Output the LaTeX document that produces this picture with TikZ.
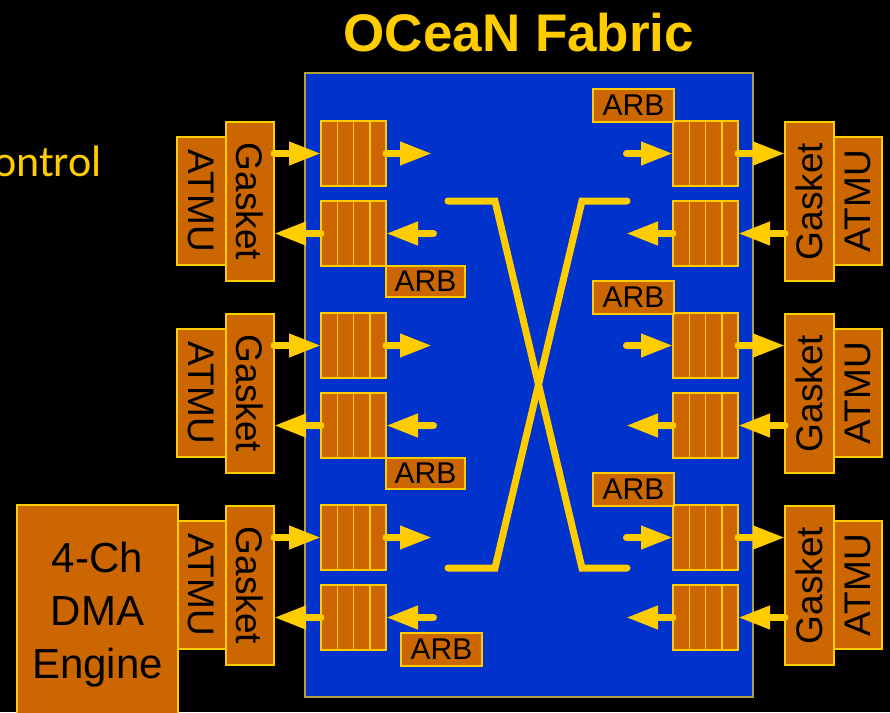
\documentclass[tikz,border=0pt]{standalone}
\usepackage{fontspec}
\setmainfont{Liberation Sans}
\newfontfamily\carl{Carlito}
\usetikzlibrary{arrows.meta}
\definecolor{orn}{HTML}{CC6600}
\definecolor{yel}{HTML}{FFCC00}
\definecolor{blu}{HTML}{0033CC}
\newcommand\bx[6]{\node[box, minimum width={((#4)-(#2))*1pt}, minimum height={((#5)-(#3))*1pt}] (#1) at ({((#2)+(#4))/2},{((#3)+(#5))/2}) {#6};}
\newcommand\que[3]{%
  \node[box, minimum width=65pt, minimum height=65pt] (#1) at ({(#2)+32.5},{(#3)+32.5}) {};
  \foreach \k in {1,2,3} \draw[yel, line width=1.5pt] ([xshift=\k*16.25pt]#1.north west) -- ([xshift=\k*16.25pt]#1.south west);
}
\begin{document}
\begin{tikzpicture}[x=1pt,y=-1pt,
  box/.style={draw=yel, fill=orn, line width=1.5pt, inner sep=0pt, outer sep=0pt},
  arr/.style={yel, line width=7pt, line cap=round, -{Triangle[length=32pt,width=22pt]}},
  bar/.style={yel, line width=7pt, line cap=round},
  lbl/.style={inner sep=0pt, text=black, font=\fontsize{37}{37}\selectfont},
  arbt/.style={inner sep=0pt, text=black, font=\fontsize{30}{30}\selectfont}]
\useasboundingbox (0,0) rectangle (890,712);
\fill[black] (0,0) rectangle (890,712);
% title and side text
\node[inner sep=0pt, anchor=base, text=yel, font=\fontsize{53}{53}\selectfont\bfseries] (title) at (519,51) {OCeaN Fabric};
\begin{scope}
\clip (0,0) rectangle (890,712);
\node[inner sep=0pt, anchor=base east, text=yel, font=\carl\fontsize{44}{44}\selectfont] (ctl) at (102,176) {Control};
\end{scope}
% fabric
\node[draw=yel!70!blu, fill=blu, line width=1.2pt, inner sep=0pt, minimum width=448pt, minimum height=624pt] (fab) at (529,385) {};
% crossbar
\coordinate (c1) at (448,201); \coordinate (c2) at (495,201);
\coordinate (c3) at (582,568); \coordinate (c4) at (627,568);
\coordinate (c5) at (627,201); \coordinate (c6) at (582,201);
\coordinate (c7) at (495,568); \coordinate (c8) at (448,568);
\draw[bar] (c1) -- (c2) -- (c3) -- (c4);
\draw[bar] (c5) -- (c6) -- (c7) -- (c8);
% rows
\foreach \r/\d in {1/0,2/192,3/384}{
  % left side
  \bx{gL\r}{226}{122+\d}{274}{281+\d}{}
  \node[lbl, rotate=-90] at (gL\r) {Gasket};
  \bx{aL\r}{177}{137+\d}{226}{265+\d}{}
  \node[lbl, rotate=-90] at (aL\r) {ATMU};
  \que{qLa\r}{321}{121+\d}
  \que{qLb\r}{321}{201+\d}
  \draw[arr] (gL\r.east |- qLa\r) -- (qLa\r.west);
  \coordinate (oLa\r) at (432,{153.5+\d});
  \draw[arr] (qLa\r.east) -- (oLa\r);
  \coordinate (iLb\r) at (433.5,{233.5+\d});
  \draw[arr] (iLb\r) -- (qLb\r.east);
  \draw[arr] (qLb\r.west) -- (gL\r.east |- qLb\r);
  % right side
  \bx{gR\r}{785}{122+\d}{834}{281+\d}{}
  \node[lbl, rotate=90] at (gR\r) {Gasket};
  \bx{aR\r}{834}{137+\d}{882}{265+\d}{}
  \node[lbl, rotate=90] at (aR\r) {ATMU};
  \que{qRa\r}{673}{121+\d}
  \que{qRb\r}{673}{201+\d}
  \bx{arbR\r}{593}{89+\d}{674}{122+\d}{}
  \node[arbt] at (arbR\r) {ARB};
  \coordinate (iRa\r) at (626.5,{153.5+\d});
  \draw[arr] (iRa\r) -- (qRa\r.west);
  \draw[arr] (qRa\r.east) -- (gR\r.west |- qRa\r);
  \draw[arr] (gR\r.west |- qRb\r) -- (qRb\r.east);
  \coordinate (oRb\r) at (626,{233.5+\d});
  \draw[arr] (qRb\r.west) -- (oRb\r);
}
% left ARBs
\bx{arbL1}{386}{266}{465}{297}{} \node[arbt] at (arbL1) {ARB};
\bx{arbL2}{386}{458}{465}{489}{} \node[arbt] at (arbL2) {ARB};
\bx{arbL3}{401}{633}{482}{666}{} \node[arbt] at (arbL3) {ARB};
% DMA engine
\bx{dma}{17}{505}{178}{740}{}
\node[inner sep=0pt, align=center, text=black, font=\fontsize{42}{53}\selectfont] (dmat) at (97.5,615) {4-Ch\\DMA\\Engine};
\end{tikzpicture}
\end{document}
